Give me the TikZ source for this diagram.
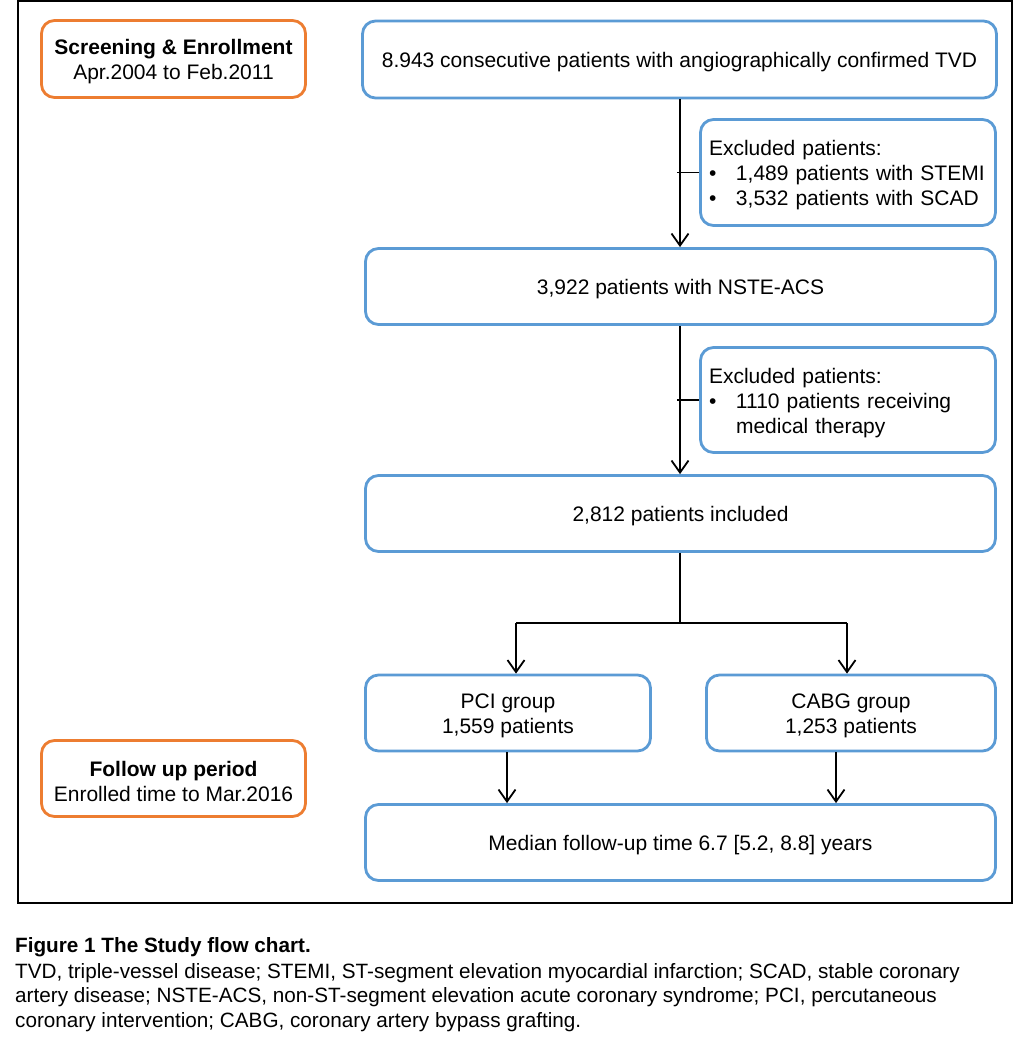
\documentclass[tikz,border=0pt]{standalone}
\usepackage{fontspec}
\setmainfont{Liberation Sans}
\usetikzlibrary{arrows.meta}
\definecolor{boxblue}{HTML}{5B9BD5}
\definecolor{boxorange}{HTML}{ED7D31}
\tikzset{
  base/.style={rectangle, rounded corners=13pt, line width=2.8pt, inner sep=0pt,
    font=\fontsize{21}{25}\selectfont, align=center,
    execute at begin node={\rule{0pt}{21pt}}},
  bluebox/.style={base, draw=boxblue},
  orangebox/.style={base, draw=boxorange},
  exclbox/.style={bluebox, align=left, text width=278pt, inner xsep=8.5pt, minimum height=106pt},
  conn/.style={line width=1.8pt},
  arr/.style={conn, -{Straight Barb[length=12pt,width=17pt,line width=1.8pt]}},
  captxt/.style={anchor=base west, inner sep=0pt, font=\fontsize{20.7}{24.5}\selectfont}
}
\newcommand{\bul}{\makebox[27pt][l]{\textbullet}}
\newcommand{\topstrut}{\rule{0pt}{21pt}}
\begin{document}
\begin{tikzpicture}[x=1pt,y=-1pt]
\useasboundingbox (0,0) rectangle (1022,1046);
\fill[white] (0,0) rectangle (1022,1046);
\draw[line width=2.3pt] (18,1.2) rectangle (1012,903);

\node[orangebox, minimum width=264pt, minimum height=77pt] (scr) at (173.5,59)
  {\topstrut\textbf{Screening \& Enrollment}\\Apr.2004 to Feb.2011};
\node[bluebox, minimum width=634pt, minimum height=77pt] (top) at (679.5,59.5)
  {8.943 consecutive patients with angiographically confirmed TVD};
\node[exclbox] (exc1) at (848,172.5)
  {Excluded patients:\\\bul 1,489 patients with STEMI\\\bul 3,532 patients with SCAD};
\node[bluebox, minimum width=630pt, minimum height=76pt] (nste) at (680.5,286.5)
  {3,922 patients with NSTE-ACS};
\node[exclbox, minimum height=105pt] (exc2) at (848,400)
  {Excluded patients:\\\bul 1110 patients receiving\\\hspace*{27pt}medical therapy};
\node[bluebox, minimum width=630pt, minimum height=76pt] (incl) at (680.5,513.5)
  {2,812 patients included};
\node[bluebox, minimum width=285pt, minimum height=76pt] (pci) at (508,713)
  {\topstrut PCI group\\1,559 patients};
\node[bluebox, minimum width=289pt, minimum height=76pt] (cabg) at (851,713)
  {\topstrut CABG group\\1,253 patients};
\node[bluebox, minimum width=630pt, minimum height=76pt] (med) at (680.5,842.5)
  {Median follow-up time 6.7 [5.2, 8.8] years};
\node[orangebox, minimum width=264pt, minimum height=76pt] (fol) at (173.5,778.5)
  {\topstrut\textbf{Follow up period}\\Enrolled time to Mar.2016};

% connectors
\coordinate (c1) at (680,0);
\draw[arr] (top.south -| c1) -- (nste.north -| c1);
\draw[conn] (exc1.west) -- (exc1.west -| 677,0);
\draw[arr] (nste.south -| c1) -- (incl.north -| c1);
\draw[conn] (exc2.west) -- (exc2.west -| 677,0);

\coordinate (split) at (680,623);
\coordinate (lb) at (516,623);
\coordinate (rb) at (847,623);
\draw[conn] (incl.south -| c1) -- (split);
\draw[conn] (lb) -- (rb);
\draw[arr] (lb) -- (pci.north -| lb);
\draw[arr] (rb) -- (cabg.north -| rb);
\coordinate (pd) at (507,0);
\coordinate (cd) at (836,0);
\draw[arr] (pci.south -| pd) -- (med.north -| pd);
\draw[arr] (cabg.south -| cd) -- (med.north -| cd);

% caption
\node[captxt] (cap0) at (15,952) {\textbf{Figure 1 The Study flow chart.}};
\node[captxt] (cap1) at (15,978) {TVD, triple-vessel disease; STEMI, ST-segment elevation myocardial infarction; SCAD, stable coronary};
\node[captxt] (cap2) at (15,1002.5) {artery disease; NSTE-ACS, non-ST-segment elevation acute coronary syndrome; PCI, percutaneous};
\node[captxt] (cap3) at (15,1027) {coronary intervention; CABG, coronary artery bypass grafting.};
\end{tikzpicture}
\end{document}
